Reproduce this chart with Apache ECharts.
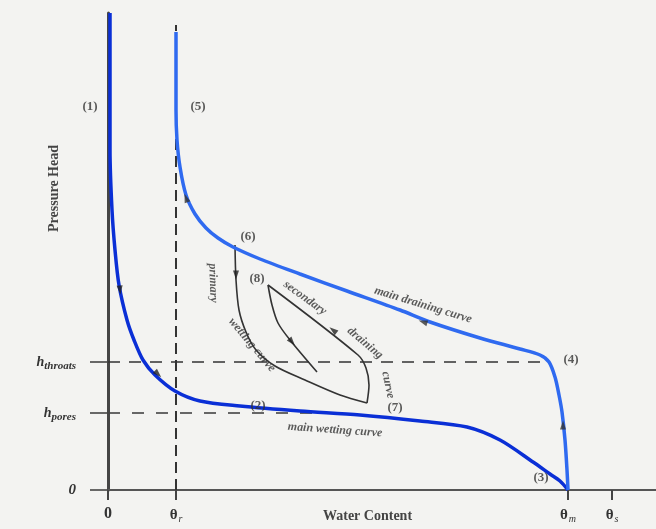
<!DOCTYPE html>
<html>
<head>
<meta charset="utf-8">
<script src="https://cdn.jsdelivr.net/npm/echarts@6/dist/echarts.min.js"></script>
<style>html,body{margin:0;padding:0;background:#f3f3f1;}#c{width:656px;height:529px;}</style>
</head>
<body>
<div id="c"></div>
<script>
// Units: water content (theta) and pressure head in arbitrary units
var xTicks = [0, 68, 460, 504];            // 0, theta_r, theta_m, theta_s
var xTickLabels = ['0', 'θr', 'θm', 'θs'];
var yTicks = [0, 77, 128];                 // 0, h_pores, h_throats
var yTickLabels = ['0', 'hpores', 'hthroats'];

var mainWetting = [[2,477],[2,340],[4,280],[7,240],[11,205],[19,170],[26,150],[35,130],[47,115],[67,99],[92,89],[132,84],[192,79],[252,75],[312,69],[359,63],[392,50],[425,28],[442,16],[452,9],[460,0]];
var mainDraining = [[68,458],[68,380],[69,350],[72,323],[78,295],[87,276],[98,262],[110,252],[125,243],[152,231],[192,216],[239,199],[292,180],[322,168],[372,152],[412,141],[432,135],[441,128],[447,113],[451,95],[454,78],[457,50],[459,20],[460,0]];
var primaryWetting = [[127,245],[128,210],[131,180],[138,158],[148,140],[167,124],[197,110],[232,95],[259,87]];
var secondaryDraining = [[259,87],[261,105],[258,122],[250,135],[160,205]];
var secondaryWetting = [[160,205],[164,185],[170,167],[182,150],[209,118]];

var thetaRLine = [[68,0],[68,465]];
var hThroatsLine = [[0,128],[441,128]];
var hPoresLine = [[0,77],[215,77]];

// arrows: [x, y, rotation deg (ccw from up)]
var arrows = [[128,215,180],[225,160,52],[184,148,220],[12,200,185],[50,116,225],[78,292,20],[315,168,72],[455,65,0]];
var arrowColors = ['#222','#222','#222','#222','#222','#333','#333','#333'];

// point labels [x, y, text]
var pointLabels = [[-18,383,'(1)'],[90,383,'(5)'],[140,253,'(6)'],[149,211,'(8)'],[150,84,'(2)'],[287,82,'(7)'],[433,12,'(3)'],[463,130,'(4)']];
// curve names [x, y, text, rotate]
var curveLabels = [[315,185,'main draining curve',-17],[227,60,'main wetting curve',-4],[105,207,'primary',-88],[144,145,'wetting curve',-50],[197,192,'secondary',-36],[257,147,'draining',-40],[280,105,'curve',-78]];

var serif = 'Liberation Serif';
var chart = echarts.init(document.getElementById('c'), null, {renderer: 'canvas'});

function lineSeries(data, color, width, type, smooth, z) {
  return {type: 'line', data: data, showSymbol: false, symbol: 'none', smooth: smooth, clip: false, z: z || 2,
    lineStyle: {color: color, width: width, type: type || 'solid'}, silent: true, animation: false};
}

var series = [
  lineSeries(thetaRLine, '#333', 2, [11, 6], false, 1),
  lineSeries(hThroatsLine, '#333', 1.6, [12, 9], false, 1),
  lineSeries(hPoresLine, '#444', 1.6, [12, 12], false, 1),
  lineSeries(primaryWetting, '#333', 1.6, 'solid', 0.3, 3),
  lineSeries(secondaryDraining, '#333', 1.6, 'solid', 0.3, 3),
  lineSeries(secondaryWetting, '#333', 1.6, 'solid', 0.3, 3),
  lineSeries(mainWetting, '#0a2fd6', 3.5, 'solid', 0.3, 4),
  lineSeries(mainDraining, '#2f6af0', 3.5, 'solid', 0.3, 4),
  {type: 'scatter', clip: false, animation: false, z: 5, silent: true,
    data: arrows.map(function (a, i) { return {value: [a[0], a[1]], symbolRotate: a[2], itemStyle: {color: arrowColors[i]}}; }),
    symbol: 'triangle', symbolSize: [6, 9]},
  {type: 'scatter', clip: false, animation: false, z: 6, silent: true, symbolSize: 0,
    data: pointLabels.map(function (p) { return {value: [p[0], p[1]], name: p[2]}; }),
    label: {show: true, position: 'inside', formatter: function (p) { return p.name; },
      fontFamily: serif, fontSize: 13, fontWeight: 'bold', color: '#333'}},
  {type: 'scatter', clip: false, animation: false, z: 6, silent: true, symbolSize: 0,
    data: curveLabels.map(function (p) { return {value: [p[0], p[1]], name: p[2], label: {rotate: p[3]}}; }),
    label: {show: true, position: 'inside', formatter: function (p) { return p.name; },
      fontFamily: serif, fontSize: 12, fontStyle: 'italic', fontWeight: 'bold', color: '#333'}}
];

chart.setOption({
  backgroundColor: '#f3f3f1',
  animation: false,
  grid: {left: 108, right: 0, top: 13, bottom: 39, containLabel: false, outerBoundsMode: 'none'},
  xAxis: {
    type: 'value', min: 0, max: 548,
    axisLine: {lineStyle: {color: '#555', width: 2}},
    axisTick: {show: true, length: 10, customValues: xTicks, lineStyle: {color: '#444', width: 2}},
    splitLine: {show: false},
    axisLabel: {customValues: xTicks, margin: 16, fontFamily: serif, color: '#333',
      formatter: function (v) {
        var i = xTicks.indexOf(v); var t = xTickLabels[i];
        if (t === '0') return '{z|0}';
        return '{t|θ}{s|' + t.slice(1) + '}';
      },
      rich: {z: {fontSize: 16, fontFamily: serif, fontWeight: 'bold', color: '#333'},
             t: {fontSize: 15, fontFamily: serif, fontWeight: 'bold', color: '#333'},
             s: {fontSize: 10, fontFamily: serif, fontStyle: 'italic', color: '#333', padding: [8, 0, 0, 1]}}}
  },
  yAxis: {
    type: 'value', min: 0, max: 477,
    axisLine: {lineStyle: {color: '#454545', width: 3}},
    axisTick: {show: true, length: 18, customValues: yTicks, lineStyle: {color: '#444', width: 1.6}},
    splitLine: {show: false},
    axisLabel: {customValues: yTicks, margin: 32, fontFamily: serif, color: '#333',
      formatter: function (v) {
        var i = yTicks.indexOf(v); var t = yTickLabels[i];
        if (t === '0') return '{z|0}';
        return '{h|h}{s|' + t.slice(1) + '}';
      },
      rich: {z: {fontSize: 15, fontFamily: serif, fontStyle: 'italic', fontWeight: 'bold', color: '#333'},
             h: {fontSize: 14, fontFamily: serif, fontStyle: 'italic', fontWeight: 'bold', color: '#333'},
             s: {fontSize: 11, fontFamily: serif, fontStyle: 'italic', fontWeight: 'bold', color: '#333', padding: [8, 0, 0, 0]}}}
  },
  graphic: [
    {type: 'text', left: 47, top: 145, rotation: Math.PI / 2,
      style: {text: 'Pressure Head', fontFamily: serif, fontSize: 14, fontWeight: 'bold', fill: '#444'}},
    {type: 'text', left: 323, top: 509,
      style: {text: 'Water Content', fontFamily: serif, fontSize: 14, fontWeight: 'bold', fill: '#444'}}
  ],
  series: series
});
</script>
</body>
</html>
